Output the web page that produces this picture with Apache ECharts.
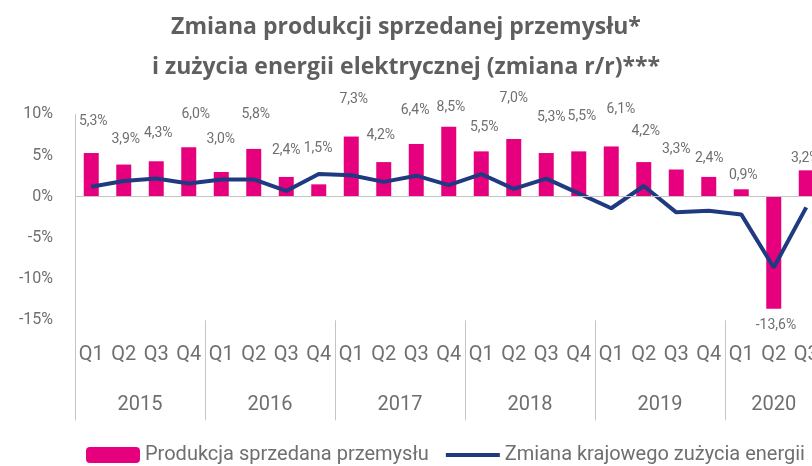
<!DOCTYPE html>
<html>
<head>
<meta charset="utf-8">
<script src="https://cdn.jsdelivr.net/npm/echarts@6/dist/echarts.min.js"></script>
<style>html,body{margin:0;padding:0;background:#fff}#c{width:812px;height:466px}</style>
</head>
<body>
<div id="c"></div>
<script>
const years = ['2015', '2016', '2017', '2018', '2019', '2020'];
const quartersPerYear = [4, 4, 4, 4, 4, 3];
const quarterNames = ['Q1', 'Q2', 'Q3', 'Q4'];
const production = [5.3, 3.9, 4.3, 6.0, 3.0, 5.8, 2.4, 1.5, 7.3, 4.2, 6.4, 8.5, 5.5, 7.0, 5.3, 5.5, 6.1, 4.2, 3.3, 2.4, 0.9, -13.6, 3.2];
const energy = [1.2, 1.9, 2.2, 1.6, 2.1, 2.1, 0.7, 2.75, 2.6, 1.8, 2.55, 1.4, 2.75, 0.95, 2.2, 0.4, -1.4, 1.3, -1.9, -1.7, -2.15, -8.6, -1.3];
const yMin = -15, yMax = 10, yStep = 5;
const seriesNames = ['Produkcja sprzedana przemysłu', 'Zmiana krajowego zużycia energii'];
const titleLines = ['Zmiana produkcji sprzedanej przemysłu*', 'i zużycia energii elektrycznej (zmiana r/r)***'];

// label nudges (style only), [dx, dy] in px relative to default label placement
const labelNudge = [[2,-20],[2,-13.5],[2,-15.5],[7,-21],[-0.5,-20.5],[2,-22.5],[0,-14.5],[-0.7,-23.5],
  [2.5,-25.5],[-3,-14.5],[-1.2,-21.5],[2.2,-7],[3,-11.5],[0,-28.5],[5,-23.5],[3.2,-22.5],
  [9.7,-24.5],[2,-18.5],[0,-8],[0.5,-6.5],[2,-1.5],[2.2,5],[-1,0.5]];

const quarters = [];
years.forEach((y, i) => { for (let q = 0; q < quartersPerYear[i]; q++) quarters.push(quarterNames[q]); });
const bounds = [0];
quartersPerYear.forEach(n => bounds.push(bounds[bounds.length - 1] + n));
const yearCenters = years.map((y, i) => (bounds[i] + bounds[i + 1]) / 2);

const fmt = v => v.toFixed(1).replace('.', ',') + '%';
const FONT = 'Roboto';
const GRAY = '#6f6f6f';
const LINEGRAY = '#c4c4c4';
const NAVY = '#1F3A80';
const gridGeom = { left: 75, top: 114.3, width: 747.5, height: 206, outerBoundsMode: 'none', containLabel: false };

const chart = echarts.init(document.getElementById('c'), null, { renderer: 'canvas' });
chart.setOption({
  animation: false,
  textStyle: { fontFamily: FONT },
  title: {
    text: titleLines.join('\n'),
    left: 'center', top: 2,
    textStyle: { fontFamily: 'Open Sans', fontSize: 23, fontWeight: 'bold', color: '#5f5f5f', lineHeight: 40 }
  },
  legend: {
    left: 86, top: 445, padding: 0,
    itemWidth: 54, itemHeight: 16, itemGap: 15,
    textStyle: { fontFamily: FONT, fontSize: 20, color: GRAY },
    data: [
      { name: seriesNames[0] },
      { name: seriesNames[1], itemStyle: { opacity: 0 }, lineStyle: { width: 4, color: NAVY } }
    ]
  },
  grid: [Object.assign({}, gridGeom), Object.assign({}, gridGeom)],
  xAxis: [
    {
      type: 'category', gridIndex: 0, data: quarters, position: 'bottom',
      axisLine: { show: false, onZero: false }, axisTick: { show: false },
      axisLabel: { interval: 0, margin: 25, fontSize: 20, color: GRAY, fontFamily: FONT, hideOverlap: false }
    },
    {
      type: 'value', gridIndex: 1, min: 0, max: bounds[bounds.length - 1], position: 'bottom',
      axisLine: { show: false, onZero: false }, splitLine: { show: false },
      axisTick: { show: true, inside: false, length: 100, customValues: bounds.slice(0, -1), lineStyle: { color: LINEGRAY, width: 1 } },
      axisLabel: { customValues: yearCenters, margin: 75, fontSize: 20, color: GRAY, fontFamily: FONT,
        formatter: v => { const i = yearCenters.indexOf(v); return i >= 0 ? years[i] : ''; } }
    }
  ],
  yAxis: [
    {
      type: 'value', gridIndex: 0, min: yMin, max: yMax, interval: yStep,
      axisLine: { show: true, lineStyle: { color: LINEGRAY, width: 1 } },
      axisTick: { show: false }, splitLine: { show: false },
      axisLabel: { formatter: '{value}%', margin: 22, fontSize: 16, color: GRAY, fontFamily: FONT }
    },
    { type: 'value', gridIndex: 1, min: yMin, max: yMax, show: false }
  ],
  series: [
    {
      name: seriesNames[0], type: 'bar', xAxisIndex: 0, yAxisIndex: 0,
      barWidth: 15, itemStyle: { color: '#E6007E' },
      data: production.map((v, i) => ({
        value: v,
        label: { position: v < 0 ? 'bottom' : 'top', offset: labelNudge[i] }
      })),
      label: { show: true, formatter: p => fmt(p.value), fontSize: 14, color: GRAY, fontFamily: FONT },
      markLine: {
        silent: true, symbol: 'none', label: { show: false },
        lineStyle: { color: LINEGRAY, width: 1, type: 'solid' },
        data: [{ yAxis: 0 }]
      },
      z: 2
    },
    {
      name: seriesNames[1], type: 'line', xAxisIndex: 0, yAxisIndex: 0,
      data: energy, symbol: 'none', showSymbol: false,
      lineStyle: { color: NAVY, width: 4 }, itemStyle: { color: NAVY },
      z: 3
    }
  ]
});
</script>
</body>
</html>
